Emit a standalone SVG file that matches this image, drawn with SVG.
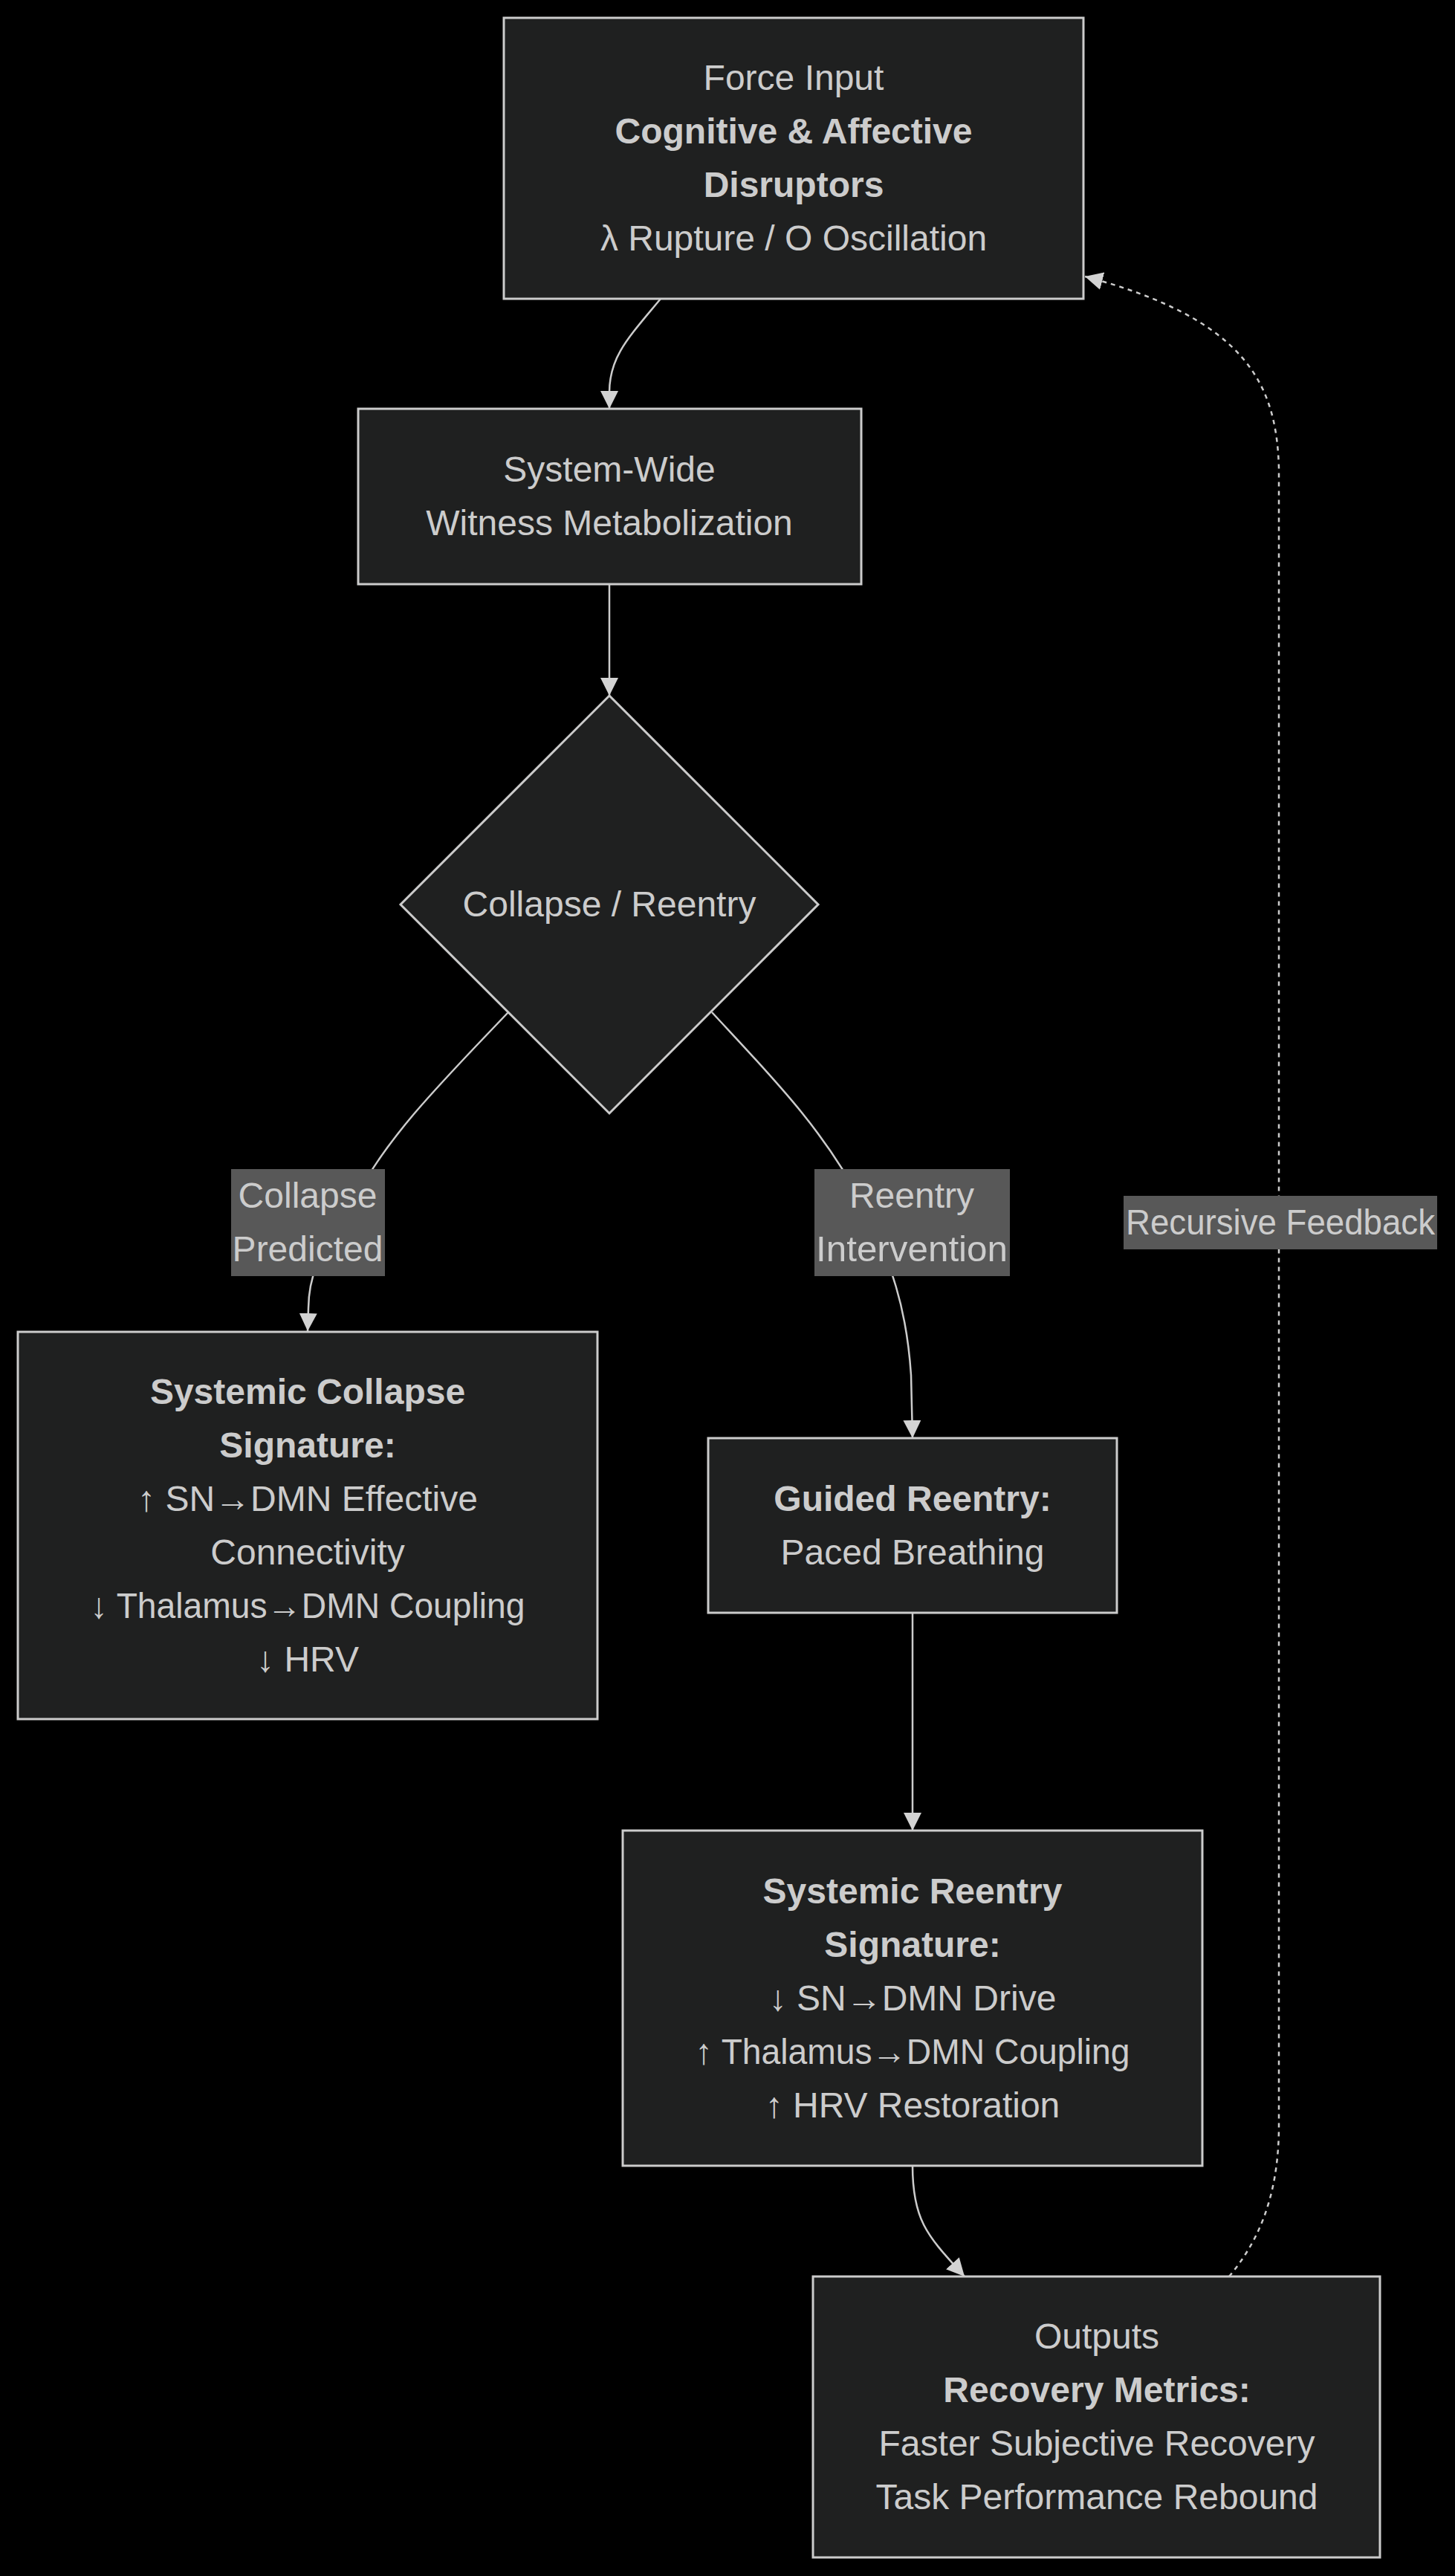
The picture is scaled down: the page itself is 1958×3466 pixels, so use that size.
<svg xmlns="http://www.w3.org/2000/svg" width="1958" height="3466" viewBox="0 0 1958 3466">
<style>
.node{fill:#1f2020;stroke:#cccccc;stroke-width:3}
.t{font-family:"Liberation Sans",Arial,sans-serif;font-size:48px;fill:#cccccc;text-anchor:middle}
.b{font-weight:bold}
.edge{fill:none;stroke:#cccccc;stroke-width:2.5}
.dot{stroke-dasharray:6 6}
.lbl{fill:#585858}
</style>
<defs>
<marker id="arr" viewBox="0 0 10 10" refX="10" refY="5" markerUnits="userSpaceOnUse" markerWidth="24" markerHeight="24" orient="auto">
<path d="M0,0 L10,5 L0,10 z" fill="#d3d3d3"/>
</marker>
</defs>
<rect x="0" y="0" width="1958" height="3466" fill="#000000"/>
<g id="connectors">
<path class="edge" d="M889,402 C845,455 820,480 820,528 L820,550" marker-end="url(#arr)"/>
<path class="edge" d="M820,786 L820,936" marker-end="url(#arr)"/>
<path class="edge" d="M684,1362 C600,1450 520,1530 480,1610 C440,1680 416,1700 415,1760 L414,1791" marker-end="url(#arr)"/>
<path class="edge" d="M958,1362 C1030,1440 1110,1520 1160,1620 C1200,1700 1220,1760 1226,1850 L1228,1935" marker-end="url(#arr)"/>
<path class="edge" d="M1228,2170 L1228,2463" marker-end="url(#arr)"/>
<path class="edge" d="M1228,2914 C1228,2990 1250,3010 1298,3063" marker-end="url(#arr)"/>
<path class="edge dot" d="M1654,3063 C1690,3020 1721,2960 1721,2860 L1721,630 C1718,520 1680,430 1460,372" marker-end="url(#arr)"/>
</g>
<g id="edge-labels">
<g id="label-collapse">
<rect class="lbl" x="311" y="1573" width="207" height="144"/>
<text class="t" x="414" y="1625">Collapse</text>
<text class="t" x="414" y="1697">Predicted</text>
</g>
<g id="label-reentry">
<rect class="lbl" x="1096" y="1573" width="263" height="144"/>
<text class="t" x="1227" y="1625">Reentry</text>
<text class="t" x="1227" y="1697" textLength="258" lengthAdjust="spacingAndGlyphs">Intervention</text>
</g>
<g id="label-feedback">
<rect class="lbl" x="1512" y="1609" width="422" height="72"/>
<text class="t" x="1723" y="1661" textLength="416" lengthAdjust="spacingAndGlyphs">Recursive Feedback</text>
</g>
</g>
<g id="A">
<rect class="node" x="678" y="24" width="780" height="378"/>
<text class="t" x="1068" y="121">Force Input</text>
<text class="t b" x="1068" y="193">Cognitive &amp; Affective</text>
<text class="t b" x="1068" y="265">Disruptors</text>
<text class="t" x="1068" y="337">λ Rupture / O Oscillation</text>
</g>
<g id="B">
<rect class="node" x="482" y="550" width="677" height="236"/>
<text class="t" x="820" y="648">System-Wide</text>
<text class="t" x="820" y="720">Witness Metabolization</text>
</g>
<g id="C">
<polygon class="node" points="820,936 1101,1217 820,1498 539,1217"/>
<text class="t" x="820" y="1233">Collapse / Reentry</text>
</g>
<g id="D">
<rect class="node" x="24" y="1792" width="780" height="521"/>
<text class="t b" x="414" y="1889">Systemic Collapse</text>
<text class="t b" x="414" y="1961">Signature:</text>
<text class="t" x="414" y="2033">↑ SN→DMN Effective</text>
<text class="t" x="414" y="2105">Connectivity</text>
<text class="t" x="414" y="2177" textLength="585" lengthAdjust="spacingAndGlyphs">↓ Thalamus→DMN Coupling</text>
<text class="t" x="414" y="2249">↓ HRV</text>
</g>
<g id="E">
<rect class="node" x="953" y="1935" width="550" height="235"/>
<text class="t b" x="1228" y="2033">Guided Reentry:</text>
<text class="t" x="1228" y="2105">Paced Breathing</text>
</g>
<g id="F">
<rect class="node" x="838" y="2463" width="780" height="451"/>
<text class="t b" x="1228" y="2561">Systemic Reentry</text>
<text class="t b" x="1228" y="2633">Signature:</text>
<text class="t" x="1228" y="2705">↓ SN→DMN Drive</text>
<text class="t" x="1228" y="2777" textLength="585" lengthAdjust="spacingAndGlyphs">↑ Thalamus→DMN Coupling</text>
<text class="t" x="1228" y="2849">↑ HRV Restoration</text>
</g>
<g id="G">
<rect class="node" x="1094" y="3063" width="763" height="378"/>
<text class="t" x="1476" y="3160">Outputs</text>
<text class="t b" x="1476" y="3232">Recovery Metrics:</text>
<text class="t" x="1476" y="3304">Faster Subjective Recovery</text>
<text class="t" x="1476" y="3376">Task Performance Rebound</text>
</g>
</svg>
